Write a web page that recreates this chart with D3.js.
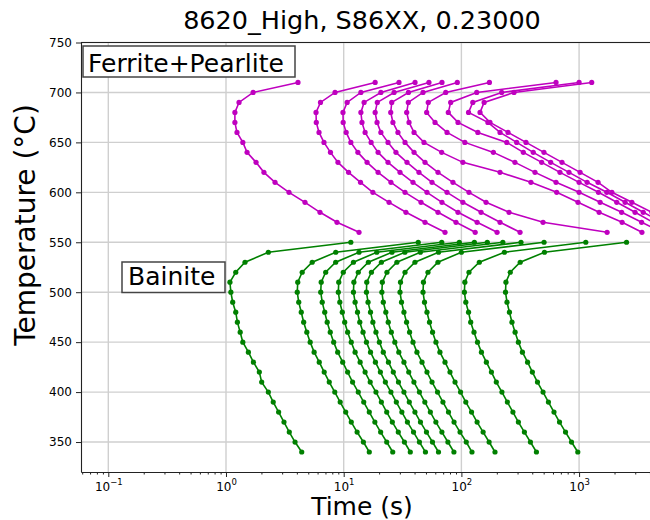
<!DOCTYPE html>
<html>
  <head>
    <meta charset="utf-8">
    <style>
      body { margin: 0; background: #fff; }
      svg { display: block; font-family: 'DejaVu Sans', sans-serif; }
    </style>
  </head>
  <body>
    <div id='graph'></div>

    <script src="https://cdn.jsdelivr.net/npm/d3@7"></script>
    <script>

    // temperatures (°C) of the points on each curve
    var pearliteTemps = [710,700,690,680,670,660,650,640,630,620,610,600,590,580,570,560];
    var bainiteTemps = [550,540,530,520,510,500,490,480,470,460,450,440,430,420,410,400,390,380,370,360,350,340];

    // ferrite+pearlite start times (s), one array per curve
    var p1 = [4.09,1.70,1.29,1.19,1.19,1.24,1.39,1.51,1.80,2.10,2.61,3.43,4.69,6.29,8.77,13.5];
    var p2 = [18.5,8.44,6.35,5.82,5.85,6.17,6.80,7.72,8.94,11.0,13.9,17.7,24.3,33.8,49.1,72.6];
    var p3 = [29.5,14.0,10.7,9.86,9.9,10.5,11.5,13.2,15.8,19.6,25.2,33.2,45.4,63.3,90.0,131];
    var p4 = [40.4,20.7,14.9,14.0,14.3,15.2,17.1,19.6,23.8,30.1,38.8,51.0,68.4,93.6,136,201];
    var p5 = [53.0,26.8,19.3,18.5,19.2,20.7,23.8,27.8,34.5,43.6,56.3,75.5,103,147,213,315];
    var p6 = [68.4,35.5,25.6,25.1,26.2,28.9,33.2,39.6,49.1,63.3,84.8,116,162,254,494,1730];
    var p7 = [92.3,47.2,35.4,34.3,35.9,39.6,48.1,68.0,103,213,390,645,979,1480,2320,3420];
    var p8 = [173,73.6,52.3,50.7,59.7,75.5,107,187,285,422,637,1000,1510,2300,3400,5060];
    var p9 = [637,135,81.1,77.4,93.6,138,243,336,481,688,1000,1460,2090,2990,4250,6160];
    var p10 = [1000,220,125,115,168,213,295,408,574,821,1170,1720,2460,3510,5060,7340];
    var p11 = [1280,280,156,144,175,249,354,503,716,1020,1450,1900,2810,4160,6160,9100];

    // bainite start times (s)
    var b1 = [11.5,2.29,1.45,1.21,1.08,1.10,1.14,1.21,1.25,1.32,1.39,1.55,1.71,1.92,2.01,2.29,2.52,2.80,3.11,3.45,3.86,4.40];
    var b2 = [43.0,8.56,5.40,4.44,4.07,4.03,4.15,4.36,4.57,4.86,5.19,5.61,6.20,6.83,7.54,8.40,9.34,10.4,11.6,13.0,14.7,16.5];
    var b3 = [68.1,13.5,8.55,7.03,6.44,6.38,6.57,6.90,7.24,7.69,8.22,8.89,9.81,10.8,11.9,13.3,14.8,16.5,18.4,20.6,23.2,26.1];
    var b4 = [96.0,19.1,12.1,9.92,9.08,9.00,9.27,9.73,10.2,10.8,11.6,12.5,13.8,15.2,16.8,18.8,20.9,23.2,25.9,29.1,32.8,36.8];
    var b5 = [129,25.7,16.2,13.3,12.2,12.1,12.5,13.1,13.7,14.6,15.6,16.9,18.6,20.5,22.6,25.2,28.0,31.2,34.8,39.2,44.0,49.5];
    var b6 = [166,33.1,20.9,17.2,15.7,15.6,16.1,16.9,17.7,18.8,20.1,21.7,24.0,26.4,29.2,32.5,36.1,40.3,44.9,50.5,56.8,63.9];
    var b7 = [225,44.8,28.3,23.3,21.3,21.1,21.7,22.8,23.9,25.4,27.2,29.4,32.5,35.7,39.5,44.0,48.9,54.5,60.7,68.3,76.8,86.4];
    var b8 = [321,63.9,40.3,33.2,30.4,30.1,31.0,32.5,34.2,36.3,38.8,41.9,46.3,51.0,56.3,62.7,69.7,77.7,86.6,97.4,110,123];
    var b9 = [504,100,63.2,52.0,47.6,47.2,48.6,51.0,53.6,56.9,60.8,65.7,72.6,80.0,88.3,98.4,109,122,136,153,172,193];
    var b10 = [1140,232,142,116,107,106,109,115,120,128,137,148,163,180,198,221,246,274,305,343,386,434];
    var b11 = [2530,508,316,260,239,237,244,256,269,286,305,330,365,401,443,494,549,612,682,767,862,975];

    var pearlite = [p1,p2,p3,p4,p5,p6,p7,p8,p9,p10,p11];
    var bainite = [b1,b2,b3,b4,b5,b6,b7,b8,b9,b10,b11];

    var xTicks = [0.1, 1, 10, 100, 1000];
    var xTickExp = ['\u22121', '0', '1', '2', '3'];
    var yTicks = [350, 400, 450, 500, 550, 600, 650, 700, 750];

    var width = 650, height = 520;
    var plotLeft = 81, plotRight = 650, plotTop = 42.5, plotBottom = 472;

    var x = d3.scaleLog().domain([0.05862, 4004]).range([plotLeft, plotRight]);
    var y = d3.scaleLinear().domain([320, 750]).range([plotBottom, plotTop]);

    var svg = d3.select('#graph').append('svg')
        .attr('width', width)
        .attr('height', height);

    svg.append('rect').attr('width', width).attr('height', height).attr('fill', '#fff');

    svg.append('clipPath').attr('id', 'plotclip')
      .append('rect')
        .attr('x', plotLeft).attr('y', plotTop)
        .attr('width', plotRight - plotLeft).attr('height', plotBottom - plotTop);

    // grid
    var grid = svg.append('g').attr('stroke', '#cfcfcf').attr('stroke-width', 1.4);
    grid.selectAll('.vg').data(xTicks).enter().append('line')
        .attr('x1', function(d) { return x(d); })
        .attr('x2', function(d) { return x(d); })
        .attr('y1', plotTop).attr('y2', plotBottom);
    grid.selectAll('.hg').data(yTicks).enter().append('line')
        .attr('x1', plotLeft).attr('x2', plotRight)
        .attr('y1', function(d) { return y(d); })
        .attr('y2', function(d) { return y(d); });

    var line = d3.line()
        .x(function(d) { return x(d[0]); })
        .y(function(d) { return y(d[1]); });

    function drawCurves(sets, temps, color) {
      var g = svg.append('g').attr('clip-path', 'url(#plotclip)');
      sets.forEach(function(times) {
        var pts = times.map(function(t, i) { return [t, temps[i]]; });
        g.append('path')
          .attr('d', line(pts))
          .attr('fill', 'none')
          .attr('stroke', color)
          .attr('stroke-width', 1.6);
        g.selectAll(null).data(pts).enter().append('circle')
          .attr('cx', function(d) { return x(d[0]); })
          .attr('cy', function(d) { return y(d[1]); })
          .attr('r', 2.6)
          .attr('fill', color);
      });
    }

    drawCurves(pearlite, pearliteTemps, '#bf00bf');
    drawCurves(bainite, bainiteTemps, '#008000');

    // axes
    var yAxis = d3.axisLeft(y).tickValues(yTicks).tickSize(5).tickSizeOuter(0).tickPadding(4);
    var gy = svg.append('g').attr('transform', 'translate(' + plotLeft + ',0)').call(yAxis);
    gy.selectAll('text').attr('font-size', 12).attr('fill', '#000').attr('font-family', 'DejaVu Sans');

    var minor = [];
    [0.01, 0.1, 1, 10, 100, 1000].forEach(function(dec) {
      for (var k = 2; k <= 9; k++) {
        var v = dec * k;
        if (v > 0.05862 && v < 4004) minor.push(v);
      }
    });
    svg.append('g').attr('transform', 'translate(0,' + plotBottom + ')')
        .call(d3.axisBottom(x).tickValues(minor).tickSize(2.5).tickSizeOuter(0).tickFormat(''))
        .select('.domain').remove();

    var gx = svg.append('g').attr('transform', 'translate(0,' + plotBottom + ')')
        .call(d3.axisBottom(x).tickValues(xTicks).tickSize(5).tickSizeOuter(0).tickPadding(5).tickFormat(''));
    gx.selectAll('.tick text').each(function(d, i) {
      var t = d3.select(this).attr('font-size', 12).attr('fill', '#000').attr('font-family', 'DejaVu Sans');
      t.append('tspan').text('10');
      t.append('tspan').attr('dy', -6).attr('font-size', 8.5).text(xTickExp[i]);
    });

    svg.selectAll('.domain').attr('stroke', '#222').attr('stroke-width', 1.1);
    svg.selectAll('.tick line').attr('stroke', '#222');

    svg.append('line')
        .attr('x1', plotLeft).attr('x2', plotRight)
        .attr('y1', plotTop).attr('y2', plotTop)
        .attr('stroke', '#222').attr('stroke-width', 1.1);

    // titles
    svg.append('text')
        .attr('x', 362).attr('y', 29)
        .attr('text-anchor', 'middle')
        .attr('font-size', 25.5)
        .text('8620_High, S86XX, 0.23000');

    svg.append('text')
        .attr('x', 362).attr('y', 515)
        .attr('text-anchor', 'middle')
        .attr('font-size', 25)
        .text('Time (s)');

    svg.append('text')
        .attr('transform', 'translate(35,225) rotate(-90)')
        .attr('text-anchor', 'middle')
        .attr('font-size', 28)
        .text('Temperature (\u00b0C)');

    // phase labels
    function labelBox(txt, tx, ty, bx, by, bw, bh) {
      svg.append('rect')
          .attr('x', bx).attr('y', by).attr('width', bw).attr('height', bh)
          .attr('fill', '#fff').attr('stroke', '#444').attr('stroke-width', 1.5);
      svg.append('text')
          .attr('x', tx).attr('y', ty)
          .attr('font-size', 25)
          .text(txt);
    }
    labelBox('Ferrite+Pearlite', 88, 71.5, 83, 46, 212, 31);
    labelBox('Bainite', 128, 284.5, 122, 262, 103, 30.5);

    </script>
  </body>
</html>
